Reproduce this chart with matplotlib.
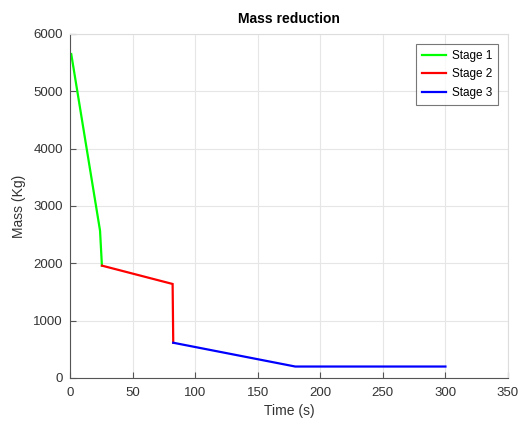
import matplotlib
matplotlib.use("Agg")
import matplotlib.pyplot as plt

plt.rcParams['font.family'] = ['Liberation Sans', 'DejaVu Sans']

stage1_t = [1, 24, 25.5]
stage1_m = [5650, 2570, 1960]
stage2_t = [25.5, 82, 82.5]
stage2_m = [1960, 1640, 615]
stage3_t = [82.5, 180, 300]
stage3_m = [615, 200, 200]
labels = ["Stage 1", "Stage 2", "Stage 3"]

fig = plt.figure(figsize=(5.18, 4.21), dpi=100)
ax = fig.add_axes([70/518, 1-378/421, 438/518, 344/421])

ax.plot(stage1_t, stage1_m, color=(0, 1, 0), lw=1.6, label=labels[0], solid_joinstyle='miter')
ax.plot(stage2_t, stage2_m, color=(1, 0, 0), lw=1.6, label=labels[1], solid_joinstyle='miter')
ax.plot(stage3_t, stage3_m, color=(0, 0, 1), lw=1.6, label=labels[2], solid_joinstyle='miter')

ax.set_xlim(0, 350)
ax.set_ylim(0, 6000)
ax.set_xticks(range(0, 351, 50))
ax.set_yticks(range(0, 6001, 1000))
ax.grid(True, color='#e6e6e6', lw=0.8)
ax.set_axisbelow(True)
for s in ['top', 'right']:
    ax.spines[s].set_color('#dddddd')
    ax.spines[s].set_linewidth(0.8)
for s in ['left', 'bottom']:
    ax.spines[s].set_color('#555555')
    ax.spines[s].set_linewidth(0.8)
ax.tick_params(direction='in', length=4, width=0.8, color='#555555',
               labelsize=9.5, labelcolor='#333333')
ax.tick_params(axis='x', pad=6.5)
ax.tick_params(axis='y', pad=5)
ax.set_xlabel("Time (s)", fontsize=10, color='#333333', labelpad=3.5)
ax.set_ylabel("Mass (Kg)", fontsize=10, color='#333333', labelpad=5)
ax.set_title("Mass reduction", fontsize=10, fontweight='bold', pad=8)

leg = ax.legend(loc='upper right', fontsize=8.5, frameon=True, fancybox=False,
                edgecolor='#555555', handlelength=2.1, handletextpad=0.45,
                borderpad=0.5, labelspacing=0.55, borderaxespad=0,
                bbox_to_anchor=(428/438, 1 - 10/344))
leg.get_frame().set_linewidth(0.8)

fig.savefig("out.png", dpi=100)
